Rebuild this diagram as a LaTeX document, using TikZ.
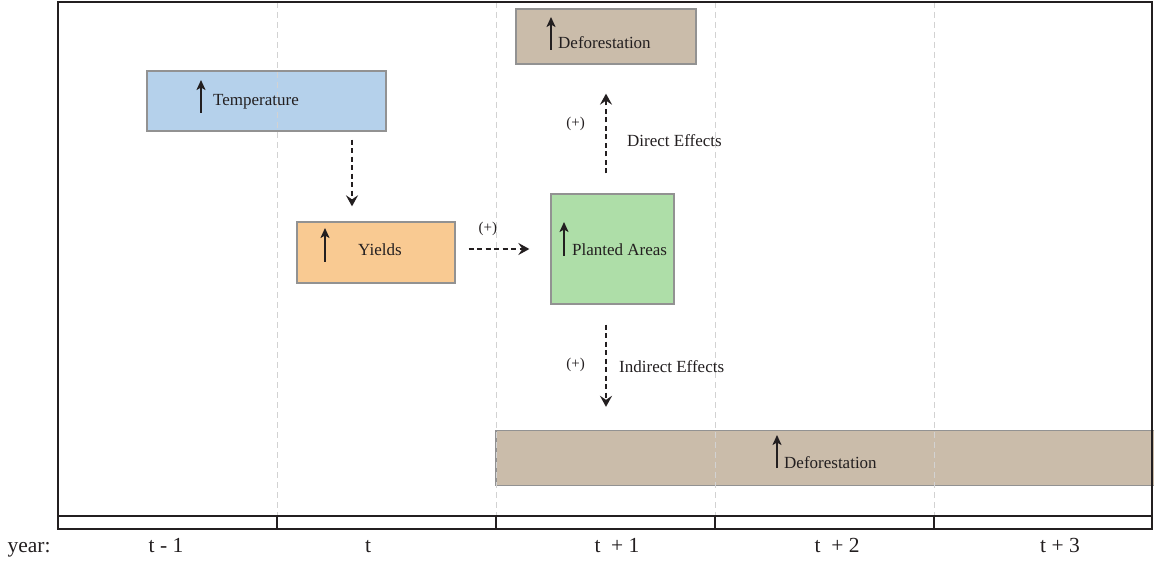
\documentclass[tikz,border=0pt]{standalone}
\usepackage{fontspec}
\setmainfont{Liberation Serif}
\usetikzlibrary{arrows.meta,positioning}

\definecolor{txt}{HTML}{231F20}
\definecolor{edge}{HTML}{929292}
\definecolor{tempfill}{HTML}{AFCEEA}
\definecolor{yieldfill}{HTML}{F9C68A}
\definecolor{plantfill}{HTML}{A8DCA1}
\definecolor{deforfill}{HTML}{C6B7A4}

\begin{document}
\begin{tikzpicture}[x=1pt,y=-1pt]
\tikzset{box/.style={draw=edge,line width=1.3pt,inner sep=0pt,fill opacity=0.93},
  lbl/.style={font=\fontsize{17}{19}\selectfont,text=txt,inner sep=0pt,anchor=base west},
  sign/.style={font=\fontsize{15}{17}\selectfont,text=txt,inner sep=0pt},
  uparr/.style={-{Stealth[length=10pt,width=9pt,inset=2.5pt]},line width=1.8pt,draw=txt},
  flow/.style={-{Stealth[length=11pt,width=12pt,inset=4pt]},line width=2.5pt,
    draw=txt,dash pattern=on 5pt off 3.5pt},
  yearline/.style={draw=gray!35,line width=0.9pt,dash pattern=on 6pt off 4pt},
  yr/.style={font=\fontsize{21.5}{24}\selectfont,text=txt,inner sep=0pt,anchor=base}}
\useasboundingbox (0,0) rectangle (1154,561);

% boxes
\node[box,fill=tempfill,minimum width=239,minimum height=60] (temp) at (266.5,101) {};
\node[box,fill=yieldfill,minimum width=158,minimum height=61] (yields) at (376,252.5) {};
\node[box,fill=plantfill,minimum width=123,minimum height=110] (planted) at (612.5,249) {};
\node[box,fill=deforfill,minimum width=180,minimum height=55] (defortop) at (606,36.5) {};
\node[box,fill=deforfill,minimum width=660,minimum height=55] (deforbot) at (826,458) {};

% years
\foreach \x in {277,496,715,934}
  \draw[yearline] (\x,2) -- (\x,516);

% texts in the boxes
\node[lbl] (temptxt) at (213,106) {Temperature};
\node[lbl] (yieldtxt) at (358,256) {Yields};
\node[lbl] (planttxt) at (572,256) {Planted Areas};
\node[lbl] (deftoptxt) at (558,49) {Deforestation};
\node[lbl] (defbottxt) at (784,468) {Deforestation};
\draw[uparr] ([xshift=-12pt,yshift=-7pt]temptxt.base west) -- ++(0,-33);
\draw[uparr] ([xshift=-33pt,yshift=-6pt]yieldtxt.base west) -- ++(0,-34);
\draw[uparr] ([xshift=-8pt]planttxt.base west) -- ++(0,-34);
\draw[uparr] ([xshift=-7pt,yshift=-1pt]deftoptxt.base west) -- ++(0,-33);
\draw[uparr] ([xshift=-7pt]defbottxt.base west) -- ++(0,-33);

% effects
\coordinate (drop) at (352,0);
\draw[flow,shorten <=8pt,shorten >=15pt] (temp.south -| drop) -- (yields.north -| drop);
\draw[flow,shorten <=13pt,shorten >=21pt] (yields.east |- planted) -- (planted.west)
  node[sign,pos=0.34,above=12pt] (plusa) {(+)};
\draw[flow,shorten <=20pt,shorten >=29pt] (planted.north -| defortop) -- (defortop.south)
  node[sign,pos=0.54,left=20pt] (plusb) {(+)};
\node[lbl,anchor=west] (direct) at (627,141) {Direct Effects};
\draw[flow,shorten <=20pt,shorten >=23pt] (planted.south -| defortop) -- (deforbot.north -| defortop)
  node[sign,pos=0.48,left=20pt] (plusc) {(+)};
\node[lbl,anchor=west] (indirect) at (619,367) {Indirect Effects};

% frame and time axis
\draw[line width=2.6pt,draw=txt] (58,2) rectangle (1152,529);
\draw[line width=2.4pt,draw=txt] (58,516) -- (1152,516);
\foreach \x in {277,496,715,934}
  \draw[line width=2.4pt,draw=txt] (\x,516) -- (\x,529);
\node[yr] (year) at (29,552) {year:};
\node[yr] (tm1) at (166,552) {t - 1};
\node[yr] (t0) at (368,552) {t};
\node[yr] (tp1) at (617,552) {t \ + 1};
\node[yr] (tp2) at (837,552) {t \ + 2};
\node[yr] (tp3) at (1060,552) {t + 3};
\end{tikzpicture}
\end{document}
